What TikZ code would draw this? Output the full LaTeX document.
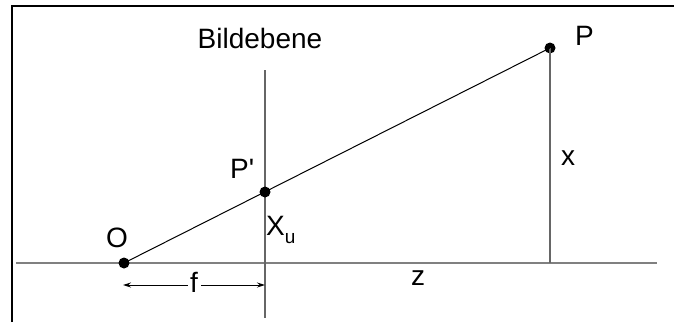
\documentclass[tikz,border=0pt]{standalone}
\usepackage{fontspec}
\setmainfont{Liberation Sans}
\usetikzlibrary{arrows.meta,calc}
\begin{document}
\begin{tikzpicture}[x=1pt,y=-1pt,
  dot/.style={circle,fill=black,inner sep=0pt,minimum size=11pt},
  lbl/.style={inner sep=0pt,font=\fontsize{28}{32}\selectfont},
  axisline/.style={draw=black!50,line width=2pt},
  thinline/.style={draw=black!60,line width=1.2pt},
  ray/.style={draw=black,line width=1pt},
  frameline/.style={draw=black,line width=2pt}]
\useasboundingbox (0,0) rectangle (674,322);
% frame
\draw[frameline] (12,322) -- (12,6) -- (674,6);
% coordinates
\coordinate (axL) at (16,263);
\coordinate (axR) at (657,263);
\coordinate (planeT) at (265,70);
\coordinate (planeB) at (265,318);
\coordinate (foot) at (550,263);
% axis and lines
\draw[axisline] (axL) -- (axR);
\draw[thinline] (planeT) -- (planeB);
\node[dot] (O) at (124,263) {};
\node[dot] (Pp) at (265,192) {};
\node[dot] (P) at (550,48) {};
\draw[thinline] (P.center) -- (foot);
\draw[ray] (O.center) -- (P.center);
% dimension f
\coordinate (fL) at (123,285);
\coordinate (fR) at (265,285);
\draw[line width=1pt,{Stealth[length=8pt,width=5pt]}-{Stealth[length=8pt,width=5pt]}] (fL) -- (fR)
  node[pos=0.5,fill=white,inner sep=0pt,minimum width=13pt,minimum height=18pt] (fgap) {};
% labels
\node[lbl,anchor=base] (bild) at (260,48) {Bildebene};
\node[lbl,anchor=base west] (Plbl) at (575,45) {P};
\node[lbl,anchor=base west] (Pplbl) at (230,178) {P\textquotesingle};
\node[lbl,anchor=base west] (Xlbl) at (266,235) {X\raisebox{-8pt}{\fontsize{19}{20}\selectfont u}};
\node[lbl,anchor=base west] (Olbl) at (106,247) {O};
\node[lbl,anchor=base] (xlbl) at (568,165) {x};
\node[lbl,anchor=base] (zlbl) at (418,285) {z};
\node[lbl,anchor=base] (flbl) at (194,292) {f};
\end{tikzpicture}
\end{document}
